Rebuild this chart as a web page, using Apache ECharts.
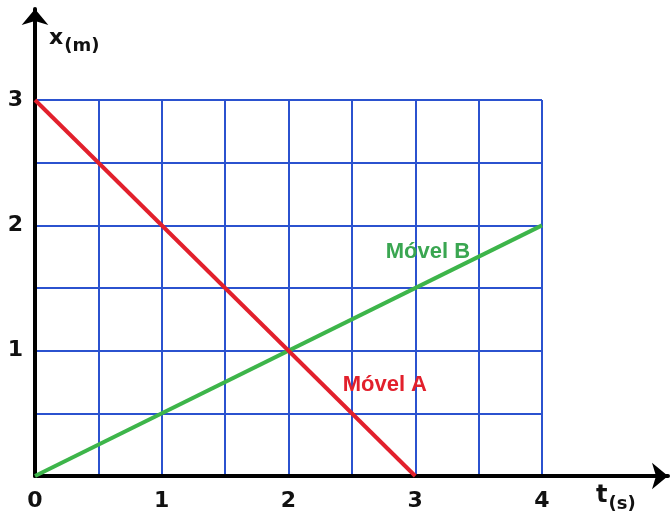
<!DOCTYPE html>
<html>
<head>
<meta charset="utf-8">
<script src="https://cdn.jsdelivr.net/npm/echarts@6/dist/echarts.min.js"></script>
<style>
  html, body { margin: 0; padding: 0; background: #fff; }
  #chart { width: 670px; height: 515px; }
</style>
</head>
<body>
<div id="chart"></div>
<script>
// position data
const tValues = [0, 1, 2, 3, 4]
const movelA = [[0, 3], [3, 0]]
const movelB = [[0, 0], [4, 2]]
const labelA = { name: 'Móvel A', coord: [2.76, 0.73] }
const labelB = { name: 'Móvel B', coord: [3.1, 1.79] }

const gridBlue = '#2b52cf'
const fam = '"DejaVu Sans", Verdana, sans-serif'
const labelFam = '"Liberation Sans", Arial, sans-serif'

function xLabel (v) {
  return Number.isInteger(v) ? String(v) : ''
}
function yLabel (v) {
  return (Number.isInteger(v) && v > 0) ? String(v) : ''
}

let chart = echarts.init(document.getElementById('chart'))
let option = {
  animation: false,
  grid: [
    { left: 35, right: 128, top: 100, bottom: 39 },
    { left: 35, right: 2, top: 9, bottom: 39 }
  ],
  xAxis: [
    {
      gridIndex: 0, type: 'value', min: 0, max: tValues[tValues.length - 1], interval: 0.5,
      axisLine: { show: false }, axisTick: { show: false },
      splitLine: { lineStyle: { color: gridBlue, width: 2 } },
      axisLabel: { margin: 14, formatter: xLabel, color: '#111', fontSize: 22, fontWeight: 'bold', fontFamily: fam }
    },
    {
      gridIndex: 1, type: 'value', min: 0, max: 1,
      axisLine: { onZero: false, symbol: ['none', 'arrow'], symbolSize: [20, 16], lineStyle: { color: '#000', width: 4 } },
      axisTick: { show: false }, axisLabel: { show: false }, splitLine: { show: false }
    }
  ],
  yAxis: [
    {
      gridIndex: 0, type: 'value', min: 0, max: 3, interval: 0.5,
      axisLine: { show: false }, axisTick: { show: false },
      splitLine: { lineStyle: { color: gridBlue, width: 2 } },
      axisLabel: { margin: 12, formatter: yLabel, color: '#111', fontSize: 22, fontWeight: 'bold', fontFamily: fam }
    },
    {
      gridIndex: 1, type: 'value', min: 0, max: 1,
      axisLine: { onZero: false, symbol: ['none', 'arrow'], symbolSize: [20, 16], lineStyle: { color: '#000', width: 4 } },
      axisTick: { show: false }, axisLabel: { show: false }, splitLine: { show: false }
    }
  ],
  graphic: [
    {
      type: 'text', left: 49, top: 27,
      style: {
        text: '{a|x}{b|(m)}',
        rich: {
          a: { fontSize: 22, fontWeight: 'bold', fill: '#111', fontFamily: fam },
          b: { fontSize: 18, fontWeight: 'bold', fill: '#111', fontFamily: fam, padding: [16, 0, 0, 1] }
        }
      }
    },
    {
      type: 'text', left: 596, top: 484,
      style: {
        text: '{a|t}{b|(s)}',
        rich: {
          a: { fontSize: 24, fontWeight: 'bold', fill: '#111', fontFamily: fam },
          b: { fontSize: 18, fontWeight: 'bold', fill: '#111', fontFamily: fam, padding: [16, 0, 0, 1] }
        }
      }
    }
  ],
  series: [
    {
      name: 'Móvel B', type: 'line', xAxisIndex: 0, yAxisIndex: 0,
      data: movelB, symbol: 'none', lineStyle: { color: '#3db54a', width: 4 },
      markPoint: {
        symbol: 'circle', symbolSize: 1, itemStyle: { color: 'rgba(0,0,0,0)' },
        label: { show: true, position: 'inside', formatter: '{b}', color: '#3aa651', fontSize: 22, fontWeight: 'bold', fontFamily: labelFam },
        data: [labelB]
      }
    },
    {
      name: 'Móvel A', type: 'line', xAxisIndex: 0, yAxisIndex: 0,
      data: movelA, symbol: 'none', lineStyle: { color: '#e2202c', width: 4 },
      markPoint: {
        symbol: 'circle', symbolSize: 1, itemStyle: { color: 'rgba(0,0,0,0)' },
        label: { show: true, position: 'inside', formatter: '{b}', color: '#e2202c', fontSize: 22, fontWeight: 'bold', fontFamily: labelFam },
        data: [labelA]
      }
    }
  ]
}
chart.setOption(option)
</script>
</body>
</html>
